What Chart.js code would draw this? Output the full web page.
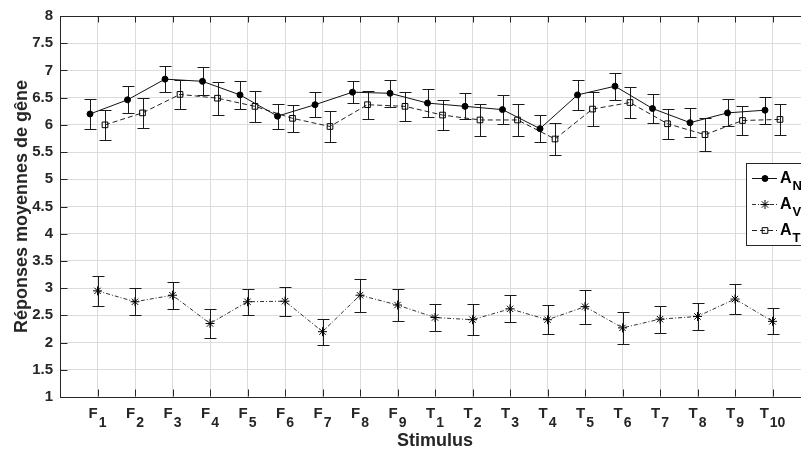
<!DOCTYPE html>
<html>
<head>
<meta charset="utf-8">
<script src="https://cdn.jsdelivr.net/npm/chart.js@4.4.1/dist/chart.umd.min.js"></script>
<style>
  html, body { margin: 0; padding: 0; background: #fff; overflow: hidden; }
  #wrap { width: 820px; height: 455px; }
</style>
</head>
<body>
<div id="wrap"><canvas id="chart" width="820" height="455"></canvas></div>
<script>
var categories = [
  "F1", "F2", "F3", "F4", "F5", "F6", "F7", "F8", "F9",
  "T1", "T2", "T3", "T4", "T5", "T6", "T7", "T8", "T9", "T10",
];

// A_N : mean and half error bar
var meanAN = [6.20, 6.46, 6.84, 6.80, 6.55, 6.16, 6.37, 6.60, 6.58, 6.40, 6.34, 6.28, 5.93, 6.55, 6.71, 6.30, 6.04, 6.22, 6.27];
var errAN = [0.28, 0.25, 0.24, 0.26, 0.25, 0.23, 0.23, 0.20, 0.25, 0.25, 0.24, 0.27, 0.25, 0.28, 0.25, 0.26, 0.27, 0.25, 0.25];

// A_V
var meanAV = [2.95, 2.75, 2.87, 2.35, 2.75, 2.76, 2.20, 2.87, 2.69, 2.46, 2.42, 2.62, 2.42, 2.66, 2.27, 2.43, 2.48, 2.80, 2.39];
var errAV = [0.28, 0.25, 0.25, 0.27, 0.24, 0.27, 0.24, 0.30, 0.29, 0.25, 0.29, 0.25, 0.27, 0.31, 0.30, 0.25, 0.25, 0.28, 0.24];

// A_T
var meanAT = [6.00, 6.22, 6.56, 6.49, 6.34, 6.12, 5.97, 6.37, 6.34, 6.18, 6.09, 6.09, 5.74, 6.29, 6.41, 6.02, 5.82, 6.08, 6.10];
var errAT = [0.27, 0.27, 0.27, 0.30, 0.28, 0.25, 0.28, 0.26, 0.26, 0.28, 0.29, 0.30, 0.29, 0.31, 0.29, 0.28, 0.30, 0.26, 0.29];

var yTicks = { min: 1, max: 8, step: 0.5 };
var xTitle = "Stimulus";
var yTitle = "Réponses moyennes de gêne";

(function () {
  var ink = "#262626";
  var family = "'Liberation Sans', Arial, Helvetica, sans-serif";

  var series = [
    { letter: "A", sub: "N", mean: meanAN, err: errAN, shift: -0.2,
      dash: [], pointStyle: "circle", radius: 3, fill: "#000", color: "#111" },
    { letter: "A", sub: "V", mean: meanAV, err: errAV, shift: 0,
      dash: [4, 2, 1, 2], pointStyle: "star", radius: 4.5, fill: "transparent", color: "#333" },
    { letter: "A", sub: "T", mean: meanAT, err: errAT, shift: 0.2,
      dash: [5, 3], pointStyle: "rect", radius: 4, fill: "transparent", color: "#222" },
  ];

  function points(values, shift) {
    var out = [];
    for (var i = 0; i < values.length; i++) {
      out.push({ x: i + 1 + shift, y: values[i] });
    }
    return out;
  }

  function crisp(v) {
    return Math.round(v) + 0.5;
  }

  var errorBars = {
    id: "errorBars",
    beforeDatasetsDraw: function (chart) {
      var ctx = chart.ctx;
      var xs = chart.scales.x;
      var ys = chart.scales.y;
      ctx.save();
      ctx.strokeStyle = "#1a1a1a";
      ctx.lineWidth = 1;
      ctx.setLineDash([]);
      series.forEach(function (s) {
        for (var i = 0; i < s.mean.length; i++) {
          var px = crisp(xs.getPixelForValue(i + 1 + s.shift));
          var top = crisp(ys.getPixelForValue(s.mean[i] + s.err[i]));
          var bot = crisp(ys.getPixelForValue(s.mean[i] - s.err[i]));
          ctx.beginPath();
          ctx.moveTo(px, top);
          ctx.lineTo(px, bot);
          ctx.moveTo(px - 6, top);
          ctx.lineTo(px + 6, top);
          ctx.moveTo(px - 6, bot);
          ctx.lineTo(px + 6, bot);
          ctx.stroke();
        }
      });
      ctx.restore();
    },
  };

  function subText(ctx, x, y, main, sub, mainSize, subSize, drop, align) {
    ctx.font = "bold " + mainSize + "px " + family;
    var w1 = ctx.measureText(main).width;
    ctx.font = "bold " + subSize + "px " + family;
    var w2 = ctx.measureText(sub).width;
    var start = align === "center" ? x - (w1 + 1 + w2) / 2 : x;
    ctx.textAlign = "left";
    ctx.textBaseline = "alphabetic";
    ctx.font = "bold " + mainSize + "px " + family;
    ctx.fillText(main, start, y);
    ctx.font = "bold " + subSize + "px " + family;
    ctx.fillText(sub, start + w1 + 1, y + drop);
  }

  var frame = {
    id: "frame",
    afterDraw: function (chart) {
      var ctx = chart.ctx;
      var area = chart.chartArea;
      var xs = chart.scales.x;
      var ys = chart.scales.y;
      ctx.save();
      ctx.strokeStyle = ink;
      ctx.lineWidth = 1;
      ctx.setLineDash([]);
      ctx.beginPath();
      var t = crisp(area.top);
      var b = crisp(area.bottom) - 1;
      var l = crisp(area.left);
      ctx.moveTo(l, t);
      ctx.lineTo(area.right, t);
      for (var k = 1; k <= categories.length; k++) {
        var px = crisp(xs.getPixelForValue(k));
        ctx.moveTo(px, t);
        ctx.lineTo(px, t + 6);
        ctx.moveTo(px, b);
        ctx.lineTo(px, b - 7);
      }
      for (var v = yTicks.min + yTicks.step; v < yTicks.max; v += yTicks.step) {
        var py = crisp(ys.getPixelForValue(v));
        ctx.moveTo(l, py);
        ctx.lineTo(l + 7, py);
      }
      ctx.stroke();

      // category labels with subscripts
      ctx.fillStyle = ink;
      for (var i = 0; i < categories.length; i++) {
        var cx = xs.getPixelForValue(i + 1);
        subText(ctx, cx, 418, categories[i].charAt(0), categories[i].slice(1), 15, 14, 8.5, "center");
      }

      // legend inside the plot
      var lx = 746.5, ly = 163.5;
      ctx.fillStyle = "#fff";
      ctx.fillRect(lx, ly, 100, 82);
      ctx.strokeStyle = ink;
      ctx.strokeRect(lx, ly, 100, 82);
      series.forEach(function (s, j) {
        var ry = 178 + j * 26;
        ctx.strokeStyle = s.color;
        ctx.lineWidth = 1;
        ctx.setLineDash(s.dash);
        ctx.beginPath();
        ctx.moveTo(752, ry + 0.5);
        ctx.lineTo(777, ry + 0.5);
        ctx.stroke();
        ctx.setLineDash([]);
        ctx.fillStyle = s.fill;
        ctx.strokeStyle = "#000";
        Chart.helpers.drawPoint(ctx, {
          pointStyle: s.pointStyle, radius: s.radius, rotation: 0, borderWidth: 1,
        }, 765, ry + 0.5);
        ctx.fillStyle = "#000";
        subText(ctx, 780, ry + 5, s.letter, s.sub, 16, 13, 6.5, "left");
      });
      ctx.restore();
    },
  };

  function init() {
    var canvas = document.getElementById("chart");
    var datasets = series.map(function (s) {
      return {
        label: s.letter + s.sub,
        data: points(s.mean, s.shift),
        showLine: true,
        borderColor: s.color,
        borderWidth: 1,
        borderDash: s.dash,
        tension: 0,
        fill: false,
        pointStyle: s.pointStyle,
        pointRadius: s.radius,
        pointBackgroundColor: s.fill,
        pointBorderColor: "#000",
        pointBorderWidth: 1,
      };
    });

    new Chart(canvas, {
      type: "line",
      data: { datasets: datasets },
      plugins: [errorBars, frame],
      options: {
        responsive: false,
        animation: false,
        events: [],
        layout: { padding: { top: 13, right: 10, left: 0, bottom: 0 } },
        plugins: { legend: { display: false }, tooltip: { enabled: false } },
        scales: {
          x: {
            type: "linear",
            min: 0,
            max: 20,
            ticks: { display: false, stepSize: 1, autoSkip: false },
            grid: { color: "#dcdcdc", lineWidth: 1, drawTicks: false },
            border: { display: true, color: ink, width: 1 },
            title: {
              display: true,
              text: xTitle,
              color: ink,
              font: { family: family, size: 18, weight: "bold" },
              padding: { top: 0, bottom: 3 },
            },
            afterFit: function (scale) { scale.height = 58; },
          },
          y: {
            min: yTicks.min,
            max: yTicks.max,
            ticks: {
              stepSize: yTicks.step,
              color: ink,
              padding: 7,
              font: { family: family, size: 15, weight: "bold" },
              callback: function (v) { return String(Math.round(v * 10) / 10); },
            },
            grid: { color: "#dcdcdc", lineWidth: 1, drawTicks: false },
            border: { display: true, color: ink, width: 1 },
            title: {
              display: true,
              text: yTitle,
              color: ink,
              font: { family: family, size: 18, weight: "bold" },
              padding: { top: 11, bottom: 0 },
            },
            afterFit: function (scale) { scale.width = 60; },
          },
        },
      },
    });
  }

  init();
})();
</script>
</body>
</html>
